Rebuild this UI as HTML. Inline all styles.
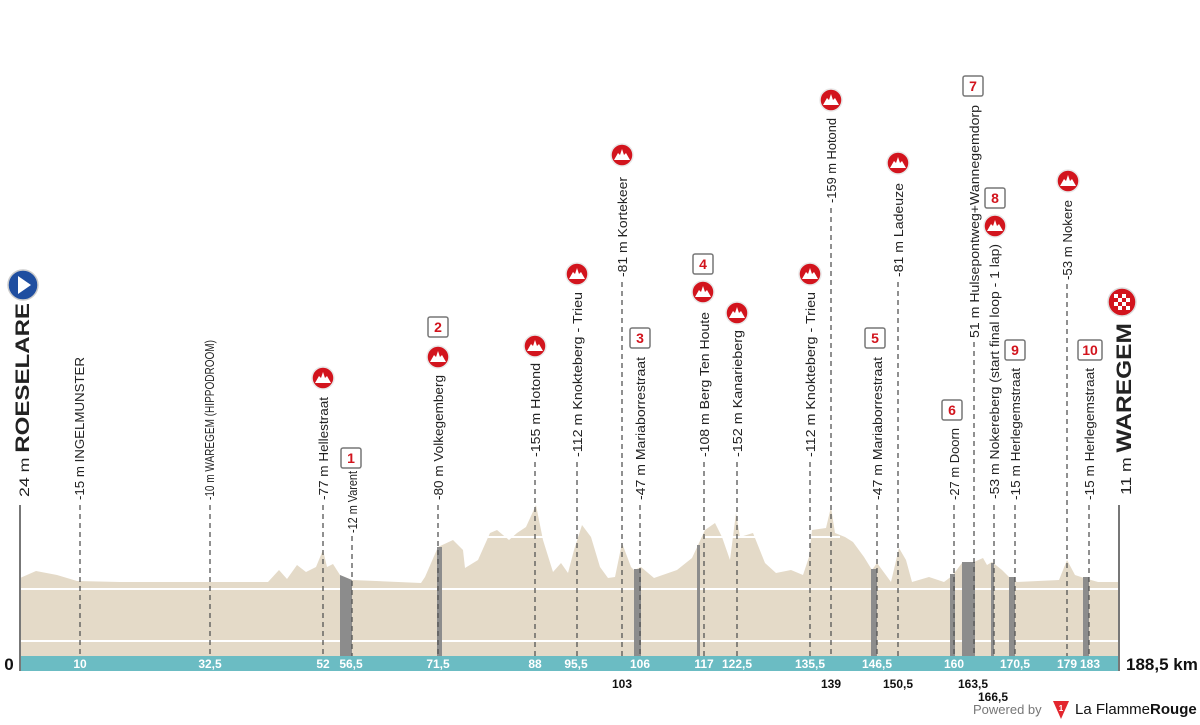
<!DOCTYPE html>
<html><head><meta charset="utf-8"><style>
html,body{margin:0;padding:0;background:#fff;}
svg{display:block;}
text{font-family:"Liberation Sans",sans-serif;}
</style></head><body>
<svg width="1200" height="725" viewBox="0 0 1200 725" xmlns="http://www.w3.org/2000/svg">
<defs>
<g id="mt"><circle r="11" fill="#d2141d" stroke="#e8e8e8" stroke-width="1.5"/><path d="M-8,5 L-4,-2 L-2,0 L0,-6 L2,0 L4,-2 L8,5 Z" fill="#fff"/></g>
</defs>
<polygon fill="#e4dac8" points="20,656 20,578 36,571 57,575 77,581 120,582 200,582 268,582 279,570 287,579 297,565 306,572 316,567 323,550 327,567 333,564 340,575 352,580 421,583 425,577 438,547 453,540 463,550 465,568 478,560 490,533 497,530 509,540 517,533 526,527 536,505 543,540 553,572 561,563 568,573 574,550 582,525 591,537 600,567 608,578 615,577 622,543 631,567 634,570 641,567 654,578 677,570 692,558 699,543 705,530 715,523 722,537 730,560 736,513 740,537 753,533 765,563 776,573 791,570 803,575 809,557 812,530 826,528 831,507 835,533 845,537 853,542 864,557 872,570 877,563 891,582 899,548 906,560 912,582 929,577 944,582 952,576 962,563 974,562 983,558 987,565 992,562 1002,570 1010,578 1017,582 1059,580 1067,560 1075,575 1084,578 1098,582 1119,582 1119,656"/>
<line x1="20" y1="589" x2="1119" y2="589" stroke="#fff" stroke-width="2"/>
<line x1="20" y1="641" x2="1119" y2="641" stroke="#fff" stroke-width="2"/>
<line x1="488" y1="537" x2="550" y2="537" stroke="#fff" stroke-width="2"/>
<line x1="705" y1="537" x2="760" y2="537" stroke="#fff" stroke-width="2"/>
<line x1="811" y1="537" x2="840" y2="537" stroke="#fff" stroke-width="2"/>
<g fill="#8c8c8c">
<polygon points="340,575 352,580 352,656 340,656"/>
<rect x="437" y="547" width="5" height="109"/>
<rect x="634" y="569" width="7" height="87"/>
<rect x="697" y="545" width="3" height="111"/>
<rect x="871" y="569" width="6" height="87"/>
<rect x="950" y="574" width="5" height="82"/>
<rect x="962" y="562" width="13" height="94"/>
<rect x="991" y="563" width="3" height="93"/>
<rect x="1009" y="577" width="6" height="79"/>
<rect x="1083" y="577" width="6" height="79"/>
</g>
<rect x="20" y="656" width="1099" height="15" fill="#6bbcc3"/>
<line x1="20" y1="505" x2="20" y2="671" stroke="#777" stroke-width="2"/>
<line x1="1119" y1="505" x2="1119" y2="671" stroke="#777" stroke-width="2"/>
<g stroke="#555" stroke-width="1.3" stroke-dasharray="5,4">
<line x1="80" y1="505" x2="80" y2="656"/>
<line x1="210" y1="505" x2="210" y2="656"/>
<line x1="323" y1="505" x2="323" y2="656"/>
<line x1="352" y1="536" x2="352" y2="656"/>
<line x1="438" y1="505" x2="438" y2="656"/>
<line x1="535" y1="462" x2="535" y2="656"/>
<line x1="577" y1="462" x2="577" y2="656"/>
<line x1="622" y1="282" x2="622" y2="656"/>
<line x1="640" y1="505" x2="640" y2="656"/>
<line x1="704" y1="462" x2="704" y2="656"/>
<line x1="737" y1="462" x2="737" y2="656"/>
<line x1="810" y1="462" x2="810" y2="656"/>
<line x1="831" y1="208" x2="831" y2="656"/>
<line x1="877" y1="505" x2="877" y2="656"/>
<line x1="898" y1="282" x2="898" y2="656"/>
<line x1="954" y1="505" x2="954" y2="656"/>
<line x1="974" y1="342" x2="974" y2="656"/>
<line x1="994" y1="505" x2="994" y2="656"/>
<line x1="1015" y1="505" x2="1015" y2="656"/>
<line x1="1067" y1="284" x2="1067" y2="656"/>
<line x1="1089" y1="505" x2="1089" y2="656"/>
</g>
<g font-size="13" fill="#222">
<text transform="translate(29,497) rotate(-90)" textLength="194" lengthAdjust="spacingAndGlyphs"><tspan font-size="14">24 m </tspan><tspan font-size="19" font-weight="bold">ROESELARE</tspan></text>
<text transform="translate(84,500) rotate(-90)" textLength="143" lengthAdjust="spacingAndGlyphs">-15 m INGELMUNSTER</text>
<text transform="translate(214,500) rotate(-90)" textLength="160" lengthAdjust="spacingAndGlyphs">-10 m WAREGEM (HIPPODROOM)</text>
<text transform="translate(328,500) rotate(-90)" textLength="103" lengthAdjust="spacingAndGlyphs">-77 m Hellestraat</text>
<text transform="translate(357,533) rotate(-90)" textLength="62" lengthAdjust="spacingAndGlyphs">-12 m Varent</text>
<text transform="translate(443,500) rotate(-90)" textLength="125" lengthAdjust="spacingAndGlyphs">-80 m Volkegemberg</text>
<text transform="translate(540,457) rotate(-90)" textLength="94" lengthAdjust="spacingAndGlyphs">-155 m Hotond</text>
<text transform="translate(582,457) rotate(-90)" textLength="165" lengthAdjust="spacingAndGlyphs">-112 m Knokteberg - Trieu</text>
<text transform="translate(627,277) rotate(-90)" textLength="100" lengthAdjust="spacingAndGlyphs">-81 m Kortekeer</text>
<text transform="translate(645,500) rotate(-90)" textLength="143" lengthAdjust="spacingAndGlyphs">-47 m Mariaborrestraat</text>
<text transform="translate(709,457) rotate(-90)" textLength="145" lengthAdjust="spacingAndGlyphs">-108 m Berg Ten Houte</text>
<text transform="translate(742,457) rotate(-90)" textLength="127" lengthAdjust="spacingAndGlyphs">-152 m Kanarieberg</text>
<text transform="translate(815,457) rotate(-90)" textLength="165" lengthAdjust="spacingAndGlyphs">-112 m Knokteberg - Trieu</text>
<text transform="translate(836,203) rotate(-90)" textLength="85" lengthAdjust="spacingAndGlyphs">-159 m Hotond</text>
<text transform="translate(882,500) rotate(-90)" textLength="143" lengthAdjust="spacingAndGlyphs">-47 m Mariaborrestraat</text>
<text transform="translate(903,277) rotate(-90)" textLength="94" lengthAdjust="spacingAndGlyphs">-81 m Ladeuze</text>
<text transform="translate(959,500) rotate(-90)" textLength="72" lengthAdjust="spacingAndGlyphs">-27 m Doorn</text>
<text transform="translate(979,338) rotate(-90)" textLength="233" lengthAdjust="spacingAndGlyphs">51 m Hulsepontweg+Wannegemdorp</text>
<text transform="translate(999,499) rotate(-90)" textLength="255" lengthAdjust="spacingAndGlyphs">-53 m Nokereberg (start final loop - 1 lap)</text>
<text transform="translate(1020,500) rotate(-90)" textLength="132" lengthAdjust="spacingAndGlyphs">-15 m Herlegemstraat</text>
<text transform="translate(1072,280) rotate(-90)" textLength="80" lengthAdjust="spacingAndGlyphs">-53 m Nokere</text>
<text transform="translate(1094,500) rotate(-90)" textLength="132" lengthAdjust="spacingAndGlyphs">-15 m Herlegemstraat</text>
<text transform="translate(1131,495) rotate(-90)" textLength="172" lengthAdjust="spacingAndGlyphs"><tspan font-size="15">11 m </tspan><tspan font-size="21" font-weight="bold">WAREGEM</tspan></text>
</g>
<circle cx="23" cy="285" r="15" fill="#1f4ea0" stroke="#ccc" stroke-width="1.5"/>
<path d="M18,276 L31,285 L18,294 Z" fill="#fff"/>
<circle cx="1122" cy="302" r="14" fill="#d2141d" stroke="#ddd" stroke-width="1.5"/>
<g fill="#fff">
<rect x="1114" y="294" width="4" height="4"/><rect x="1122" y="294" width="4" height="4"/>
<rect x="1118" y="298" width="4" height="4"/><rect x="1126" y="298" width="4" height="4"/>
<rect x="1114" y="302" width="4" height="4"/><rect x="1122" y="302" width="4" height="4"/>
<rect x="1118" y="306" width="4" height="4"/><rect x="1126" y="306" width="4" height="4"/>
</g>
<use href="#mt" x="323" y="378"/>
<use href="#mt" x="438" y="357"/>
<use href="#mt" x="535" y="346"/>
<use href="#mt" x="577" y="274"/>
<use href="#mt" x="622" y="155"/>
<use href="#mt" x="703" y="292"/>
<use href="#mt" x="737" y="313"/>
<use href="#mt" x="810" y="274"/>
<use href="#mt" x="831" y="100"/>
<use href="#mt" x="898" y="163"/>
<use href="#mt" x="995" y="226"/>
<use href="#mt" x="1068" y="181"/>
<g font-size="14" font-weight="bold" fill="#d2141d" text-anchor="middle">
<g><rect x="341" y="448" width="20" height="20" fill="#fff" stroke="#777" stroke-width="1.5" rx="2"/><text x="351" y="463">1</text></g>
<g><rect x="428" y="317" width="20" height="20" fill="#fff" stroke="#777" stroke-width="1.5" rx="2"/><text x="438" y="332">2</text></g>
<g><rect x="630" y="328" width="20" height="20" fill="#fff" stroke="#777" stroke-width="1.5" rx="2"/><text x="640" y="343">3</text></g>
<g><rect x="693" y="254" width="20" height="20" fill="#fff" stroke="#777" stroke-width="1.5" rx="2"/><text x="703" y="269">4</text></g>
<g><rect x="865" y="328" width="20" height="20" fill="#fff" stroke="#777" stroke-width="1.5" rx="2"/><text x="875" y="343">5</text></g>
<g><rect x="942" y="400" width="20" height="20" fill="#fff" stroke="#777" stroke-width="1.5" rx="2"/><text x="952" y="415">6</text></g>
<g><rect x="963" y="76" width="20" height="20" fill="#fff" stroke="#777" stroke-width="1.5" rx="2"/><text x="973" y="91">7</text></g>
<g><rect x="985" y="188" width="20" height="20" fill="#fff" stroke="#777" stroke-width="1.5" rx="2"/><text x="995" y="203">8</text></g>
<g><rect x="1005" y="340" width="20" height="20" fill="#fff" stroke="#777" stroke-width="1.5" rx="2"/><text x="1015" y="355">9</text></g>
<g><rect x="1078" y="340" width="24" height="20" fill="#fff" stroke="#777" stroke-width="1.5" rx="2"/><text x="1090" y="355">10</text></g>
</g>
<g font-size="12" font-weight="bold" fill="#fff" text-anchor="middle">
<text x="80" y="668">10</text><text x="210" y="668">32,5</text><text x="323" y="668">52</text>
<text x="351" y="668">56,5</text><text x="438" y="668">71,5</text><text x="535" y="668">88</text>
<text x="576" y="668">95,5</text><text x="640" y="668">106</text><text x="704" y="668">117</text>
<text x="737" y="668">122,5</text><text x="810" y="668">135,5</text><text x="877" y="668">146,5</text>
<text x="954" y="668">160</text><text x="1015" y="668">170,5</text><text x="1067" y="668">179</text><text x="1090" y="668">183</text>
</g>
<g font-size="12" font-weight="bold" fill="#111" text-anchor="middle">
<text x="622" y="688">103</text><text x="831" y="688">139</text><text x="898" y="688">150,5</text>
<text x="973" y="688">163,5</text><text x="993" y="701">166,5</text>
</g>
<text x="9" y="670" font-size="17" font-weight="bold" fill="#111" text-anchor="middle">0</text>
<text x="1126" y="670" font-size="17" font-weight="bold" fill="#111">188,5 km</text>
<text x="973" y="714" font-size="13" fill="#777">Powered by</text>
<path d="M1053,701 L1069,701 L1061,719 Z" fill="#e3262e"/>
<text x="1061" y="711" font-size="8" font-weight="bold" fill="#fff" text-anchor="middle">1</text>
<text x="1075" y="714" font-size="15" fill="#111">La Flamme<tspan font-weight="bold">Rouge</tspan></text>
</svg>
</body></html>
